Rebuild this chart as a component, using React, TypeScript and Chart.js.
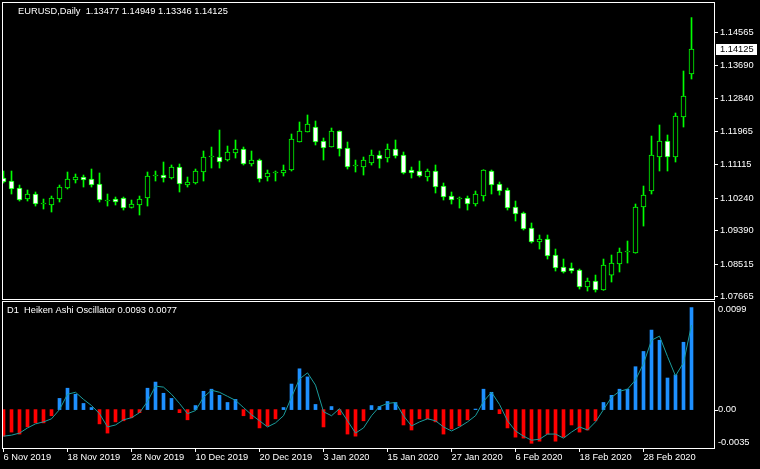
import React, { useEffect, useRef } from 'react';
import { Chart, registerables } from 'chart.js';

Chart.register(...registerables);

// ---- EURUSD Daily candles (bar 0 = 6 Nov 2019 ... bar 86 = 9 Mar 2020)
const opens = [
  1.10762, 1.10684, 1.10501, 1.10214, 1.10345, 1.10084, 1.10058, 1.10214, 1.10501, 1.10710,
  1.10788, 1.10736, 1.10606, 1.10162, 1.10214, 1.10240, 1.09992, 1.10058, 1.10240, 1.10814,
  1.10840, 1.10762, 1.11049, 1.10579, 1.10632, 1.10919, 1.11310, 1.11310, 1.11232, 1.11415,
  1.11519, 1.11128, 1.11232, 1.10788, 1.10893, 1.10893, 1.10971, 1.11702, 1.11963, 1.12093,
  1.11728, 1.11571, 1.11989, 1.11545, 1.11075, 1.11049, 1.11154, 1.11363, 1.11284, 1.11519,
  1.11363, 1.10971, 1.10945, 1.10788, 1.10945, 1.10553, 1.10292, 1.10214, 1.10240, 1.10084,
  1.10292, 1.10945, 1.10606, 1.10449, 1.10005, 1.09849, 1.09457, 1.09092, 1.09170, 1.08753,
  1.08439, 1.08413, 1.08361, 1.07917, 1.08074, 1.07839, 1.08230, 1.08518, 1.08831, 1.08805,
  1.10005, 1.10423, 1.11310, 1.11728, 1.11310, 1.12354, 1.13477,
];
const highs = [
  1.10945, 1.10945, 1.10579, 1.10449, 1.10397, 1.10214, 1.10292, 1.10579, 1.10919, 1.10867,
  1.10840, 1.10997, 1.10893, 1.10345, 1.10266, 1.10266, 1.10188, 1.10292, 1.10919, 1.10945,
  1.11180, 1.11102, 1.11128, 1.10788, 1.10997, 1.11467, 1.11571, 1.12015, 1.11597, 1.11754,
  1.11571, 1.11467, 1.11258, 1.10971, 1.10945, 1.11102, 1.11911, 1.12224, 1.12407, 1.12250,
  1.11806, 1.12067, 1.11995, 1.11702, 1.11232, 1.11310, 1.11493, 1.11467, 1.11650, 1.11754,
  1.11441, 1.11049, 1.11206, 1.10997, 1.11102, 1.10632, 1.10397, 1.10266, 1.10292, 1.10423,
  1.10980, 1.10971, 1.10658, 1.10501, 1.10162, 1.09875, 1.09588, 1.09275, 1.09275, 1.08909,
  1.08648, 1.08544, 1.08387, 1.08152, 1.08230, 1.08648, 1.08753, 1.08935, 1.09118, 1.10084,
  1.10553, 1.11858, 1.12146, 1.11885, 1.12459, 1.13555, 1.14949,
];
const lows = [
  1.10632, 1.10345, 1.10162, 1.10162, 1.10031, 1.09953, 1.09875, 1.10136, 1.10475, 1.10632,
  1.10527, 1.10527, 1.10136, 1.10031, 1.10058, 1.09927, 1.09979, 1.09797, 1.10031, 1.10684,
  1.10658, 1.10736, 1.10397, 1.10527, 1.10606, 1.10684, 1.11023, 1.11023, 1.11206, 1.11284,
  1.11102, 1.11075, 1.10658, 1.10684, 1.10684, 1.10814, 1.10945, 1.11702, 1.11963, 1.11624,
  1.11232, 1.11571, 1.11336, 1.10997, 1.10919, 1.10840, 1.11102, 1.11023, 1.11180, 1.11284,
  1.10867, 1.10762, 1.10788, 1.10684, 1.10371, 1.10188, 1.10084, 1.09979, 1.09927, 1.10031,
  1.10162, 1.10345, 1.10318, 1.09927, 1.09640, 1.09405, 1.09066, 1.08909, 1.08648, 1.08335,
  1.08283, 1.08283, 1.07865, 1.07813, 1.07787, 1.07830, 1.08048, 1.08309, 1.08544, 1.08800,
  1.09509, 1.10345, 1.10945, 1.10945, 1.11180, 1.12093, 1.13346,
];
const closes = [
  1.10658, 1.10475, 1.10188, 1.10345, 1.10084, 1.10090, 1.10240, 1.10527, 1.10736, 1.10788,
  1.10710, 1.10579, 1.10188, 1.10168, 1.10136, 1.09979, 1.10084, 1.10214, 1.10814, 1.10820,
  1.10762, 1.11049, 1.10606, 1.10658, 1.10945, 1.11310, 1.11316, 1.11180, 1.11441, 1.11519,
  1.11128, 1.11232, 1.10736, 1.10893, 1.10899, 1.10971, 1.11780, 1.11989, 1.12172, 1.11702,
  1.11545, 1.11989, 1.11519, 1.11049, 1.11081, 1.11232, 1.11363, 1.11258, 1.11519, 1.11336,
  1.10893, 1.10893, 1.10814, 1.10945, 1.10527, 1.10266, 1.10188, 1.10220, 1.10084, 1.10345,
  1.10971, 1.10579, 1.10423, 1.09979, 1.09823, 1.09431, 1.09092, 1.09170, 1.08726, 1.08413,
  1.08309, 1.08335, 1.07917, 1.08074, 1.07839, 1.08492, 1.08544, 1.08831, 1.08837, 1.10005,
  1.10318, 1.11363, 1.11728, 1.11310, 1.12380, 1.12902, 1.14125,
];

// ---- Heiken Ashi Oscillator: histogram and signal line
const oscHist = [
  -0.00242, -0.00205, -0.00223, -0.00158, -0.00121, -0.00121, -0.00056, 0.00102, 0.00195, 0.00140,
  0.00056, 0.00019, -0.00130, -0.00214, -0.00112, -0.00102, -0.00074, -0.00028, 0.00195, 0.00251,
  0.00149, 0.00102, -0.00028, -0.00093, 0.00037, 0.00167, 0.00186, 0.00130, 0.00065, 0.00093,
  -0.00056, -0.00084, -0.00167, -0.00149, -0.00084, 0.00019, 0.00233, 0.00372, 0.00298, 0.00047,
  -0.00158, 0.00028, -0.00047, -0.00223, -0.00242, -0.00102, 0.00037, 0.00028, 0.00074, 0.00065,
  -0.00140, -0.00186, -0.00084, -0.00084, -0.00112, -0.00223, -0.00177, -0.00149, -0.00093, 0.00005,
  0.00186, 0.00158, -0.00037, -0.00167, -0.00251, -0.00260, -0.00307, -0.00288, -0.00223, -0.00288,
  -0.00251, -0.00140, -0.00205, -0.00186, -0.00102, 0.00065, 0.00130, 0.00186, 0.00186, 0.00391,
  0.00530, 0.00725, 0.00632, 0.00288, 0.00316, 0.00614, 0.00930,
];
const oscSignal = [
  -0.00242, -0.00233, -0.00214, -0.00167, -0.00130, -0.00112, -0.00084, 0.00000, 0.00140, 0.00158,
  0.00093, 0.00037, -0.00037, -0.00158, -0.00140, -0.00093, -0.00074, -0.00028, 0.00074, 0.00214,
  0.00205, 0.00140, 0.00056, -0.00037, -0.00009, 0.00112, 0.00177, 0.00158, 0.00121, 0.00084,
  0.00019, -0.00047, -0.00102, -0.00158, -0.00121, -0.00056, 0.00112, 0.00279, 0.00335, 0.00223,
  -0.00019, -0.00056, 0.00009, -0.00102, -0.00214, -0.00167, -0.00056, 0.00028, 0.00056, 0.00065,
  -0.00056, -0.00149, -0.00112, -0.00084, -0.00102, -0.00158, -0.00195, -0.00158, -0.00112, -0.00056,
  0.00074, 0.00158, 0.00047, -0.00102, -0.00195, -0.00242, -0.00279, -0.00270, -0.00223, -0.00223,
  -0.00260, -0.00205, -0.00158, -0.00186, -0.00112, 0.00000, 0.00112, 0.00167, 0.00186, 0.00270,
  0.00419, 0.00632, 0.00670, 0.00484, 0.00307, 0.00428, 0.00770,
];

// ---- axis labels
const dateTickBars = [0, 8, 16, 24, 32, 40, 48, 56, 64, 72, 80];
const dateLabels = [
  '6 Nov 2019', '18 Nov 2019', '28 Nov 2019', '10 Dec 2019', '20 Dec 2019', '3 Jan 2020',
  '15 Jan 2020', '27 Jan 2020', '6 Feb 2020', '18 Feb 2020', '28 Feb 2020',
];
const priceTicks = [1.14565, 1.1369, 1.1284, 1.11965, 1.11115, 1.1024, 1.0939, 1.08515, 1.07665];
const oscTicks = [0.0099, 0.0, -0.0035];
const oscTickLabels = ['0.0099', '0.00', '-0.0035'];

const FAMILY = '"Liberation Sans", Arial, sans-serif';
const FSIZE = 9.3;

// ---- layout (pixels)
const W = 760;
const H = 469;
const AREA_L = 2;
const AREA_T = 2;
const AREA_R = 714;
const AREA_B = 448;
const PRICE_BOTTOM = 299;
const OSC_TOP = 301;
const BAR_STEP = 8;

// price scale: 1.14565 at y=32.3, 1.07665 at y=296.7
const P_PER_PX = (1.14565 - 1.07665) / (296.7 - 32.3);
const P_MAX = 1.14565 + (32.3 - AREA_T) * P_PER_PX;
const P_MIN = 1.14565 - (AREA_B - 32.3) * P_PER_PX;
// osc scale: max label value at panel top, min label value at panel bottom
const O_PER_PX = (oscTicks[0] - oscTicks[2]) / (AREA_B - OSC_TOP);
const O_MAX = oscTicks[0] + (OSC_TOP - AREA_T) * O_PER_PX;
const O_MIN = oscTicks[2];
const X_MIN = -0.1875;
const X_MAX = X_MIN + (AREA_R - AREA_L) / BAR_STEP;

export default function App() {
  const ref = useRef<HTMLCanvasElement>(null);

  useEffect(() => {
    if (!ref.current) return;
    const idx = opens.map((_, i) => i);
    const last = opens.length - 1;
    const font = `${FSIZE}px ${FAMILY}`;

    const mt4Plugin = {
      id: 'mt4Decor',
      afterDraw(chart: any) {
        const ctx = chart.ctx as CanvasRenderingContext2D;
        const y = chart.scales.y;
        const y2 = chart.scales.y2;
        ctx.save();
        // hide price-axis overflow below the price panel
        ctx.fillStyle = '#000000';
        ctx.fillRect(AREA_R + 1, PRICE_BOTTOM, W - AREA_R - 1, H - PRICE_BOTTOM);
        ctx.fillRect(0, PRICE_BOTTOM + 0.5, AREA_R + 1, OSC_TOP - PRICE_BOTTOM - 0.5);
        // panel frames
        ctx.strokeStyle = '#ffffff';
        ctx.lineWidth = 1;
        ctx.strokeRect(AREA_L + 0.5, AREA_T + 0.5, AREA_R - AREA_L, PRICE_BOTTOM - AREA_T);
        ctx.strokeRect(AREA_L + 0.5, OSC_TOP + 0.5, AREA_R - AREA_L, AREA_B - OSC_TOP);
        // oscillator axis labels
        ctx.font = font;
        ctx.fillStyle = '#ffffff';
        ctx.textAlign = 'left';
        ctx.textBaseline = 'middle';
        const ly = [
          y2.getPixelForValue(oscTicks[0]) + 8,
          y2.getPixelForValue(oscTicks[1]),
          y2.getPixelForValue(oscTicks[2]) - 6,
        ];
        oscTickLabels.forEach((t, i) => ctx.fillText(t, AREA_R + 4, ly[i]));
        ctx.beginPath();
        ctx.moveTo(AREA_R, Math.round(ly[1]) + 0.5);
        ctx.lineTo(AREA_R + 4, Math.round(ly[1]) + 0.5);
        ctx.stroke();
        // current price box
        const cy = y.getPixelForValue(closes[last]);
        ctx.fillStyle = '#ffffff';
        ctx.fillRect(AREA_R + 2, Math.round(cy) - 5, 41, 11);
        ctx.fillStyle = '#000000';
        ctx.fillText(closes[last].toFixed(5), AREA_R + 6, cy + 0.5);
        // titles
        ctx.fillStyle = '#ffffff';
        const title =
          'EURUSD,Daily  ' +
          [opens[last], highs[last], lows[last], closes[last]].map((v) => v.toFixed(5)).join(' ');
        ctx.fillText(title, 18, 11);
        const oscTitle =
          'D1  Heiken Ashi Oscillator ' + oscHist[last].toFixed(4) + ' ' + oscSignal[last].toFixed(4);
        ctx.fillText(oscTitle, 7, 310);
        ctx.restore();
      },
    };

    const chart = new Chart(ref.current, {
      type: 'bar',
      data: {
        datasets: [
          {
            type: 'bar',
            label: 'body',
            yAxisID: 'y',
            data: idx.map((i) => ({ x: i, y: [opens[i], closes[i]] })) as any,
            backgroundColor: idx.map((i) => (closes[i] >= opens[i] ? '#000000' : '#ffffff')),
            borderColor: '#00ff00',
            borderWidth: 1,
            borderSkipped: false,
            barThickness: 5,
            minBarLength: 1,
            grouped: false,
            order: 0,
          } as any,
          {
            type: 'bar',
            label: 'wick',
            yAxisID: 'y',
            data: idx.map((i) => ({ x: i, y: [lows[i], highs[i]] })) as any,
            backgroundColor: '#00ff00',
            borderWidth: 0,
            barThickness: 1,
            grouped: false,
            order: 1,
          } as any,
          {
            type: 'line',
            label: 'signal',
            yAxisID: 'y2',
            data: idx.map((i) => ({ x: i, y: oscSignal[i] })) as any,
            borderColor: '#1a9c9c',
            borderWidth: 1,
            pointRadius: 0,
            tension: 0,
            order: 2,
          } as any,
          {
            type: 'bar',
            label: 'hist',
            yAxisID: 'y2',
            data: idx.map((i) => ({ x: i, y: oscHist[i] })) as any,
            backgroundColor: idx.map((i) => (oscHist[i] >= 0 ? '#1e90ff' : '#ff0000')),
            borderWidth: 0,
            barThickness: 3,
            grouped: false,
            order: 3,
          } as any,
        ],
      },
      options: {
        responsive: false,
        animation: false,
        devicePixelRatio: 1,
        events: [],
        layout: { padding: { left: AREA_L, top: AREA_T, right: 0, bottom: 0 } },
        plugins: { legend: { display: false }, tooltip: { enabled: false }, title: { display: false } },
        scales: {
          x: {
            type: 'linear',
            position: 'bottom',
            min: X_MIN,
            max: X_MAX,
            offset: false,
            grid: { display: true, drawOnChartArea: false, drawTicks: true, tickLength: 4, color: '#ffffff', offset: false },
            border: { display: false },
            ticks: {
              autoSkip: false,
              maxRotation: 0,
              minRotation: 0,
              align: 'start',
              padding: 0,
              color: '#ffffff',
              font: { family: FAMILY, size: FSIZE },
              callback: (_v: any, i: number) => dateLabels[i],
            },
            afterBuildTicks: (s: any) => {
              s.ticks = dateTickBars.map((v) => ({ value: v }));
            },
            afterFit: (s: any) => {
              s.height = H - AREA_B;
              s.paddingLeft = 0;
              s.paddingRight = 0;
            },
          } as any,
          y: {
            type: 'linear',
            position: 'right',
            min: P_MIN,
            max: P_MAX,
            grid: { display: true, drawOnChartArea: false, drawTicks: true, tickLength: 4, color: '#ffffff' },
            border: { display: false },
            ticks: {
              autoSkip: false,
              padding: 2,
              color: '#ffffff',
              font: { family: FAMILY, size: FSIZE },
              callback: (v: any) => Number(v).toFixed(5),
            },
            afterBuildTicks: (s: any) => {
              s.ticks = priceTicks.map((v) => ({ value: v }));
            },
            afterFit: (s: any) => {
              s.width = W - AREA_R;
              s.paddingTop = 0;
              s.paddingBottom = 0;
            },
          } as any,
          y2: {
            type: 'linear',
            position: 'right',
            display: false,
            min: O_MIN,
            max: O_MAX,
          } as any,
        },
      },
      plugins: [mt4Plugin],
    });

    return () => chart.destroy();
  }, []);

  return (
    <div style={{ position: 'fixed', left: 0, top: 0, width: W, height: H, background: '#000000' }}>
      <canvas ref={ref} width={W} height={H} style={{ display: 'block', background: '#000000' }} />
    </div>
  );
}
